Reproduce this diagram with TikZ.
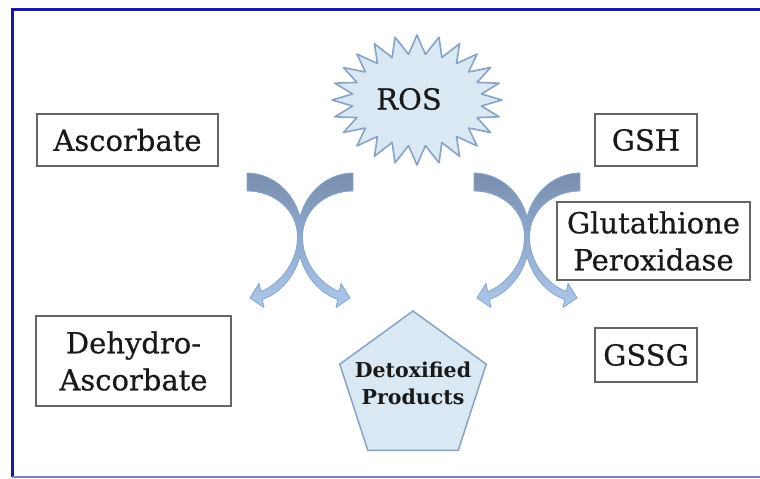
\documentclass[tikz,border=0pt]{standalone}
\usepackage{fontspec}
\setmainfont{DejaVu Serif}
\newfontfamily\labelfont{DejaVu Serif}[FakeBold=0.6]
\usepackage{tikz}
\usetikzlibrary{shapes.geometric}
\definecolor{frameblue}{RGB}{25,25,160}
\definecolor{framelight}{RGB}{125,125,215}
\definecolor{rosfill}{RGB}{218,232,243}
\definecolor{rosedge}{RGB}{135,163,198}
\definecolor{arrtop}{RGB}{120,142,175}
\definecolor{arrmid}{RGB}{145,172,206}
\definecolor{arrbot}{RGB}{172,200,234}
\definecolor{arredge}{RGB}{135,166,206}

\begin{document}
\begin{tikzpicture}[
  x=1pt, y=-1pt,
  chem/.style={draw=black!60, line width=1.2pt, fill=white, align=center,
               inner sep=0pt, text=black!90, font=\labelfont\fontsize{29}{37}\selectfont},
  burst/.style={fill=rosfill, draw=rosedge, line width=1.6pt, line join=round},
  curvedarrow/.pic={
    \path[top color=arrtop, middle color=arrmid, bottom color=arrbot,
          draw=arredge, line width=0.8pt, line join=round]
      (-53,-64) .. controls (-25,-64) and (2.5,-40) .. (2.5,0)
      .. controls (2.5,33) and (-18,56) .. (-37.7,62.4)
      -- (-36,70.6) -- (-50.1,60.9) -- (-41,46.4) -- (-39.3,54.6)
      .. controls (-22,48) and (-2.5,27) .. (-2.5,0)
      .. controls (-2.5,-28) and (-27,-46) .. (-53,-46) -- cycle;
  },
]
\useasboundingbox (0,0) rectangle (760,479);

% frame
\draw[frameblue, line width=3pt] (770,9) -- (12,9) -- (12,477);
\draw[framelight, line width=1.5pt] (12,477) -- (770,477);

% ROS burst
\coordinate (rosc) at (417,100);
\draw[burst, shift={(rosc)}] (0:85 and 65)
  \foreach \i in {1,...,24} { -- ({\i*15-7.5}:65 and 46) -- ({\i*15}:85 and 65) } -- cycle;
\node[font=\labelfont\fontsize{29}{37}\selectfont, text=black!90] (ros) at (409,99) {ROS};

% boxes
\node[chem, minimum width=181pt, minimum height=52pt] (asc)  at (127.5,140) {Ascorbate};
\node[chem, minimum width=195pt, minimum height=90pt] (dha)  at (133.5,361) {Dehydro-\\Ascorbate};
\node[chem, minimum width=102pt, minimum height=52pt] (gsh)  at (646,140)   {GSH};
\node[chem, minimum width=193pt, minimum height=78pt] (gpx)  at (653.5,241) {Glutathione\\Peroxidase};
\node[chem, minimum width=102pt, minimum height=54pt] (gssg) at (646,355)   {GSSG};

% products
\node[regular polygon, regular polygon sides=5, minimum size=154pt, fill=rosfill,
      draw=rosedge, line width=1.5pt, inner sep=0pt] (det) at (413,388) {};
\node[align=center, text=black!90, font=\bfseries\fontsize{20.5}{27}\selectfont]
  (dettext) at (413,383) {Detoxified\\Products};

% crossing arrows
\pic at (300,237) {curvedarrow};
\pic[xscale=-1] at (300,237) {curvedarrow};
\pic at (527,237) {curvedarrow};
\pic[xscale=-1] at (527,237) {curvedarrow};
\end{tikzpicture}
\end{document}
